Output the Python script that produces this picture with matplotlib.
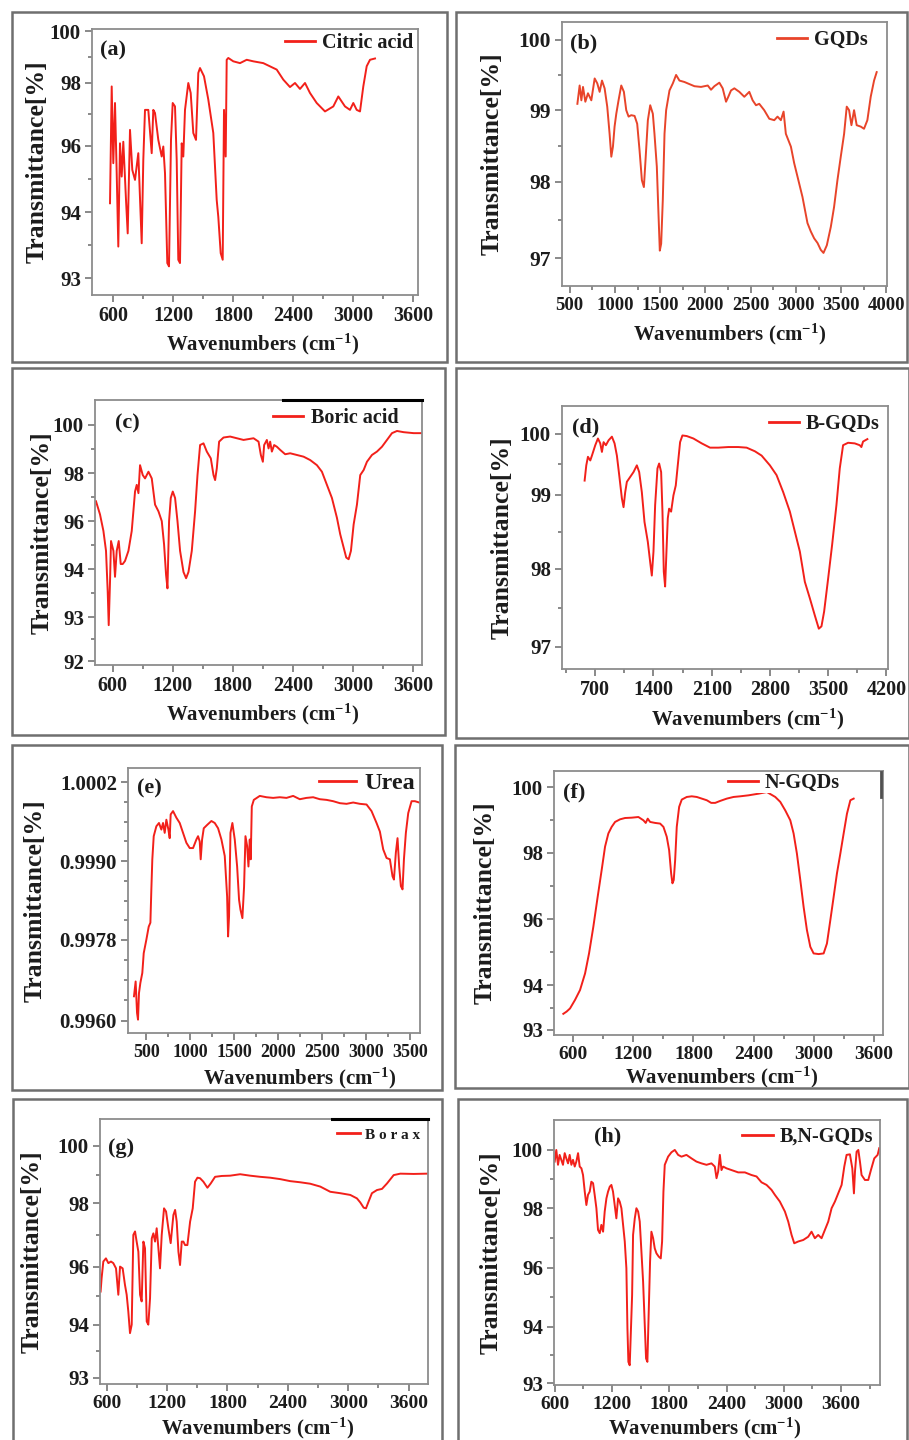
import numpy as np
import matplotlib
matplotlib.use("Agg")
import matplotlib.pyplot as plt
from matplotlib.patches import Rectangle
from matplotlib.ticker import FixedLocator, MultipleLocator

# ---- spectra (wavenumber cm-1, transmittance) ----
citric_wn = [570, 587, 603, 620, 637, 653, 670, 687, 703, 730, 747, 770, 793, 820, 853, 887, 903, 920,
             953, 987, 1003, 1020, 1053, 1087, 1103, 1120, 1143, 1160, 1180, 1197, 1220, 1237, 1253,
             1270, 1287, 1303, 1320, 1353, 1377, 1403, 1430, 1453, 1470, 1510, 1553, 1603, 1637, 1653,
             1677, 1697, 1710, 1727, 1737, 1753, 1803, 1870, 1937, 2003, 2103, 2237, 2303, 2370, 2420,
             2470, 2520, 2570, 2637, 2720, 2803, 2853, 2920, 2970, 3003, 3037, 3070, 3103, 3137, 3170, 3220]
citric_t = [94.27, 97.89, 95.47, 97.36, 95.17, 93.48, 96.07, 95.07, 96.12, 94.37, 93.68, 96.50, 95.27,
            94.97, 95.77, 93.53, 95.57, 97.14, 97.14, 95.77, 97.14, 97.04, 96.18, 95.67, 95.97, 95.17,
            93.23, 93.18, 96.18, 97.36, 97.25, 95.57, 93.28, 93.23, 96.07, 95.67, 97.14, 98.00, 97.68,
            96.40, 96.18, 98.39, 98.58, 98.26, 97.47, 96.40, 94.37, 93.93, 93.38, 93.28, 97.14, 95.67,
            98.90, 98.97, 98.84, 98.77, 98.90, 98.84, 98.77, 98.52, 98.13, 97.87, 98.00, 97.81, 98.00,
            97.68, 97.36, 97.09, 97.25, 97.57, 97.25, 97.14, 97.36, 97.14, 97.09, 97.89, 98.65, 98.90, 98.95]

gqd_wn = [585, 610, 629, 647, 673, 702, 739, 776, 805, 831, 857, 886, 915, 941, 960, 978, 996, 1015,
          1040, 1070, 1099, 1125, 1151, 1180, 1217, 1246, 1272, 1298, 1320, 1338, 1364, 1390, 1419, 1437,
          1463, 1481, 1496, 1511, 1529, 1548, 1566, 1603, 1640, 1676, 1713, 1768, 1823, 1879, 1952, 2026,
          2062, 2099, 2154, 2191, 2228, 2253, 2283, 2320, 2375, 2430, 2485, 2522, 2559, 2595, 2650, 2706,
          2761, 2797, 2834, 2864, 2889, 2945, 2981, 3018, 3073, 3128, 3165, 3202, 3239, 3275, 3305, 3342,
          3386, 3422, 3459, 3496, 3533, 3562, 3588, 3614, 3643, 3672, 3717, 3753, 3790, 3827, 3864, 3893]
gqd_t = [99.09, 99.35, 99.14, 99.33, 99.12, 99.24, 99.14, 99.45, 99.38, 99.26, 99.42, 99.31, 99.05,
         98.67, 98.35, 98.49, 98.77, 98.95, 99.14, 99.35, 99.26, 99.00, 98.91, 98.93, 98.92, 98.81,
         98.44, 98.02, 97.93, 98.30, 98.86, 99.07, 98.95, 98.67, 98.21, 97.59, 97.10, 97.19, 97.76,
         98.67, 99.00, 99.28, 99.38, 99.50, 99.42, 99.40, 99.37, 99.34, 99.33, 99.35, 99.29, 99.34,
         99.39, 99.31, 99.12, 99.19, 99.28, 99.31, 99.26, 99.19, 99.26, 99.14, 99.07, 99.09, 99.00,
         98.88, 98.86, 98.91, 98.86, 98.98, 98.67, 98.49, 98.26, 98.07, 97.80, 97.46, 97.35, 97.26,
         97.20, 97.11, 97.07, 97.17, 97.41, 97.67, 98.02, 98.35, 98.67, 99.05, 99.00, 98.79, 99.00,
         98.79, 98.77, 98.74, 98.86, 99.19, 99.42, 99.54]

boric_wn = [433, 473, 507, 533, 550, 560, 573, 583, 607, 623, 640, 660, 680, 700, 723, 757, 790, 823,
            840, 857, 873, 900, 923, 957, 990, 1023, 1057, 1090, 1113, 1133, 1147, 1163, 1180, 1200,
            1223, 1247, 1273, 1307, 1333, 1357, 1390, 1423, 1447, 1473, 1507, 1540, 1580, 1607, 1623,
            1640, 1663, 1707, 1773, 1840, 1907, 2007, 2057, 2080, 2100, 2113, 2140, 2157, 2173, 2190,
            2213, 2240, 2273, 2323, 2373, 2440, 2507, 2573, 2640, 2690, 2740, 2790, 2840, 2873, 2907,
            2933, 2957, 2980, 3007, 3040, 3073, 3107, 3140, 3190, 3240, 3290, 3340, 3390, 3440, 3507,
            3607, 3683]
boric_t = [96.83, 96.28, 95.59, 94.76, 93.53, 92.82, 93.74, 95.17, 94.76, 93.84, 94.76, 95.17, 94.21,
           94.21, 94.34, 94.76, 95.59, 97.24, 97.52, 97.17, 98.34, 97.93, 97.79, 98.07, 97.79, 96.69,
           96.41, 96.00, 95.03, 93.88, 93.60, 96.00, 96.97, 97.24, 96.97, 96.00, 94.76, 93.94, 93.81,
           93.94, 94.76, 96.41, 97.93, 99.17, 99.24, 98.90, 98.62, 97.93, 97.72, 98.21, 99.31, 99.48,
           99.52, 99.45, 99.38, 99.45, 99.31, 98.76, 98.48, 99.17, 99.38, 99.03, 99.31, 98.90, 99.17,
           99.10, 98.97, 98.79, 98.83, 98.76, 98.69, 98.55, 98.34, 98.07, 97.52, 96.97, 96.14, 95.45,
           94.90, 94.48, 94.41, 94.76, 95.86, 96.69, 97.93, 98.14, 98.48, 98.76, 98.90, 99.10, 99.38,
           99.66, 99.75, 99.70, 99.66, 99.66]

bgqd_wn = [572, 592, 612, 640, 660, 700, 732, 760, 780, 800, 828, 860, 900, 932, 960, 988, 1020, 1040,
           1060, 1080, 1120, 1160, 1200, 1228, 1260, 1292, 1332, 1360, 1380, 1400, 1420, 1448, 1468,
           1492, 1508, 1524, 1540, 1556, 1572, 1588, 1612, 1640, 1668, 1692, 1720, 1748, 1800, 1880,
           1980, 2080, 2180, 2300, 2420, 2520, 2620, 2700, 2800, 2880, 2960, 3040, 3100, 3160, 3220,
           3280, 3340, 3388, 3420, 3452, 3500, 3548, 3600, 3640, 3680, 3740, 3820, 3880, 3900, 3920, 3972]
bgqd_t = [99.23, 99.48, 99.62, 99.56, 99.64, 99.81, 99.92, 99.84, 99.70, 99.86, 99.81, 99.89, 99.95,
          99.84, 99.64, 99.32, 98.95, 98.83, 99.04, 99.21, 99.29, 99.37, 99.48, 99.37, 99.04, 98.63,
          98.36, 98.09, 97.91, 98.23, 98.86, 99.43, 99.51, 99.37, 98.77, 97.96, 97.77, 98.23, 98.68,
          98.81, 98.77, 98.99, 99.15, 99.48, 99.86, 99.97, 99.96, 99.92, 99.84, 99.77, 99.77, 99.78,
          99.78, 99.77, 99.71, 99.64, 99.48, 99.32, 99.04, 98.77, 98.50, 98.23, 97.83, 97.62, 97.40,
          97.23, 97.26, 97.45, 97.87, 98.32, 98.86, 99.43, 99.81, 99.85, 99.84, 99.81, 99.78, 99.87, 99.91]

urea_wn = [359, 378, 394, 405, 416, 432, 454, 470, 500, 527, 546, 557, 568, 584, 614, 644, 671, 690,
           709, 728, 751, 766, 777, 804, 842, 880, 918, 956, 994, 1032, 1070, 1089, 1108, 1119, 1135,
           1154, 1192, 1241, 1279, 1317, 1355, 1393, 1420, 1431, 1442, 1458, 1480, 1507, 1534, 1556,
           1572, 1594, 1613, 1629, 1648, 1663, 1678, 1689, 1701, 1724, 1792, 1868, 1944, 2020, 2096,
           2172, 2248, 2324, 2400, 2476, 2552, 2628, 2704, 2780, 2856, 2932, 3008, 3065, 3122, 3160,
           3198, 3236, 3274, 3304, 3320, 3342, 3361, 3380, 3399, 3418, 3434, 3456, 3483, 3521, 3559, 3608]
urea_t = [0.99654, 0.99687, 0.99617, 0.99602, 0.99661, 0.99684, 0.99706, 0.99750, 0.99780, 0.99800,
          0.99806, 0.99857, 0.99903, 0.99938, 0.99953, 0.99958, 0.99948, 0.99958, 0.99943, 0.99963,
          0.99948, 0.99935, 0.99971, 0.99976, 0.99966, 0.99958, 0.99943, 0.99928, 0.99920, 0.99920,
          0.99933, 0.99938, 0.99930, 0.99903, 0.99933, 0.99950, 0.99955, 0.99961, 0.99958, 0.99950,
          0.99933, 0.99908, 0.99846, 0.99785, 0.99816, 0.99943, 0.99958, 0.99933, 0.99892, 0.99841,
          0.99826, 0.99813, 0.99861, 0.99938, 0.99923, 0.99892, 0.99933, 0.99903, 0.99983, 0.99993,
          0.99999, 0.99997, 0.99996, 0.99997, 0.99996, 0.99999, 0.99994, 0.99996, 0.99997, 0.99994,
          0.99993, 0.99991, 0.99988, 0.99987, 0.99989, 0.99987, 0.99986, 0.99976, 0.99958, 0.99945,
          0.99918, 0.99905, 0.99903, 0.99877, 0.99872, 0.99913, 0.99935, 0.99892, 0.99862, 0.99857,
          0.99903, 0.99943, 0.99973, 0.99991, 0.99991, 0.99989]

ngqd_wn = [500, 533, 567, 617, 667, 717, 757, 800, 843, 883, 917, 950, 983, 1017, 1067, 1117, 1183,
           1250, 1300, 1323, 1343, 1367, 1417, 1467, 1500, 1533, 1557, 1577, 1590, 1603, 1617, 1633,
           1657, 1683, 1733, 1783, 1833, 1883, 1933, 1977, 2017, 2067, 2133, 2200, 2267, 2350, 2450,
           2533, 2617, 2667, 2717, 2767, 2800, 2833, 2867, 2900, 2933, 2967, 3000, 3050, 3100, 3133,
           3167, 3200, 3233, 3267, 3300, 3333, 3367, 3400]
ngqd_t = [93.36, 93.41, 93.48, 93.67, 93.89, 94.35, 94.96, 95.77, 96.67, 97.48, 98.19, 98.59, 98.79,
          98.94, 99.02, 99.06, 99.07, 99.09, 98.99, 98.91, 99.04, 98.94, 98.91, 98.89, 98.79, 98.49,
          98.08, 97.38, 97.08, 97.18, 97.78, 98.79, 99.40, 99.62, 99.70, 99.72, 99.70, 99.65, 99.60,
          99.52, 99.52, 99.58, 99.65, 99.70, 99.72, 99.75, 99.80, 99.85, 99.70, 99.55, 99.29, 98.99,
          98.59, 97.98, 97.18, 96.37, 95.67, 95.16, 94.96, 94.94, 94.96, 95.26, 95.97, 96.67, 97.38,
          97.98, 98.59, 99.19, 99.60, 99.65]

borax_wn = [540, 550, 567, 593, 617, 643, 666, 693, 716, 733, 759, 782, 799, 815, 832, 849, 865, 882,
            898, 915, 932, 948, 965, 981, 998, 1014, 1031, 1048, 1064, 1081, 1097, 1114, 1130, 1147,
            1170, 1190, 1213, 1236, 1263, 1280, 1296, 1313, 1329, 1346, 1362, 1379, 1402, 1429, 1455,
            1478, 1502, 1528, 1561, 1601, 1634, 1677, 1744, 1827, 1926, 2025, 2125, 2224, 2324, 2423,
            2523, 2622, 2722, 2821, 2921, 3020, 3086, 3119, 3153, 3176, 3202, 3235, 3285, 3335, 3385,
            3451, 3517, 3650, 3782]
borax_t = [95.14, 95.60, 96.16, 96.26, 96.11, 96.16, 96.11, 95.94, 95.03, 96.00, 95.94, 95.37, 95.03,
           94.46, 93.84, 94.00, 97.00, 97.11, 96.79, 96.47, 95.03, 94.80, 96.79, 96.58, 94.11, 94.00,
           94.91, 96.89, 97.05, 96.79, 97.21, 96.58, 95.94, 97.00, 97.84, 97.74, 97.21, 96.74, 97.63,
           97.79, 97.42, 96.47, 96.05, 96.79, 96.79, 96.68, 96.68, 97.42, 97.84, 98.75, 98.89, 98.87,
           98.75, 98.54, 98.69, 98.92, 98.95, 98.96, 99.01, 98.96, 98.92, 98.89, 98.84, 98.77, 98.73,
           98.68, 98.58, 98.40, 98.35, 98.29, 98.17, 98.03, 97.86, 97.84, 98.06, 98.35, 98.46, 98.50,
           98.69, 98.98, 99.03, 99.02, 99.03]

bngqd_wn = [600, 617, 635, 652, 670, 687, 705, 722, 740, 757, 775, 792, 810, 827, 845, 862, 880, 897,
            915, 932, 949, 967, 984, 1002, 1019, 1037, 1054, 1072, 1089, 1107, 1124, 1142, 1159, 1177,
            1194, 1211, 1229, 1246, 1264, 1281, 1299, 1316, 1334, 1351, 1362, 1372, 1386, 1397, 1411,
            1421, 1439, 1456, 1474, 1491, 1508, 1526, 1543, 1557, 1571, 1585, 1599, 1613, 1631, 1648,
            1666, 1690, 1711, 1725, 1739, 1753, 1788, 1823, 1858, 1893, 1928, 1980, 2033, 2085, 2137,
            2190, 2242, 2277, 2295, 2312, 2330, 2347, 2364, 2399, 2452, 2522, 2592, 2661, 2714, 2766,
            2819, 2871, 2906, 2958, 3011, 3046, 3081, 3109, 3151, 3203, 3255, 3290, 3325, 3360, 3395,
            3430, 3465, 3500, 3535, 3570, 3605, 3633, 3657, 3692, 3717, 3734, 3745, 3762, 3780, 3797,
            3814, 3849, 3884, 3912, 3947, 3982, 3999]
bngqd_t = [99.60, 100.0, 99.49, 99.83, 99.66, 99.49, 99.89, 99.71, 99.54, 99.83, 99.49, 99.66, 99.43,
           99.60, 99.89, 99.43, 99.37, 99.14, 98.57, 98.11, 98.46, 98.57, 98.91, 98.86, 98.46, 98.00,
           97.27, 97.16, 97.44, 97.21, 97.89, 98.34, 98.57, 98.74, 98.80, 98.57, 98.11, 97.66, 98.34,
           98.23, 98.00, 97.44, 96.88, 95.98, 93.97, 93.38, 93.32, 93.85, 95.07, 97.10, 97.66, 98.00,
           97.89, 97.55, 96.54, 95.53, 94.06, 93.44, 93.38, 94.51, 96.20, 97.21, 96.99, 96.65, 96.48,
           96.37, 96.31, 96.88, 98.57, 99.49, 99.77, 99.92, 100.0, 99.83, 99.77, 99.83, 99.71, 99.60,
           99.54, 99.49, 99.54, 99.43, 99.03, 99.26, 99.83, 99.31, 99.43, 99.37, 99.31, 99.23, 99.23,
           99.14, 99.09, 98.89, 98.80, 98.63, 98.46, 98.23, 97.89, 97.55, 97.10, 96.82, 96.88, 96.93,
           97.04, 97.21, 96.99, 97.10, 96.99, 97.27, 97.55, 98.00, 98.23, 98.51, 98.80, 99.43, 99.83,
           99.85, 99.37, 98.51, 99.26, 99.94, 100.0, 99.60, 99.14, 98.97, 98.97, 99.31, 99.71, 99.83, 100.06]

# y tick labels as printed on each panel
citric_yticks = [100, 98, 96, 94, 93]
gqd_yticks = [100, 99, 98, 97]
boric_yticks = [100, 98, 96, 94, 93, 92]
bgqd_yticks = [100, 99, 98, 97]
urea_yticks = [1.0002, 0.9990, 0.9978, 0.9960]
ngqd_yticks = [100, 98, 96, 94, 93]
borax_yticks = [100, 98, 96, 94, 93]
bngqd_yticks = [100, 98, 96, 94, 93]

plt.rcParams["font.family"] = ["Liberation Serif", "DejaVu Serif"]
plt.rcParams["font.weight"] = "bold"
plt.rcParams["axes.labelweight"] = "bold"
plt.rcParams["mathtext.fontset"] = "custom"
plt.rcParams["mathtext.rm"] = "Liberation Serif:bold"
plt.rcParams["mathtext.bf"] = "Liberation Serif:bold"
plt.rcParams["mathtext.default"] = "rm"

W, H = 909, 1440
TXT = "#1c1c1c"
RED = "#f2201a"
fig = plt.figure(figsize=(W / 100, H / 100), dpi=100)


def piecewise(vals, fracs):
    # the printed y axes are not evenly scaled, so map tick labels to their drawn heights
    v = np.array(vals, float)[::-1]
    f = np.array(fracs, float)[::-1]

    def fwd(x):
        x = np.asarray(x, float)
        y = np.interp(x, v, f)
        y = np.where(x < v[0], f[0] + (x - v[0]) * (f[1] - f[0]) / (v[1] - v[0]), y)
        y = np.where(x > v[-1], f[-1] + (x - v[-1]) * (f[-1] - f[-2]) / (v[-1] - v[-2]), y)
        return y

    def inv(y):
        y = np.asarray(y, float)
        x = np.interp(y, f, v)
        x = np.where(y < f[0], v[0] + (y - f[0]) * (v[1] - v[0]) / (f[1] - f[0]), x)
        x = np.where(y > f[-1], v[-1] + (y - f[-1]) * (v[-1] - v[-2]) / (f[-1] - f[-2]), x)
        return x

    return fwd, inv


def panel(box, frame, wn, t, yticks, yfracs, xlim, xstep, tag, name, tag_xy, leg_xy,
          ylab_x, xlab_xy, xfs=14.5, yfs=15, ylab_fmt="{:g}", leg_fs=14.5, nminor=1, color=RED):
    l, r, top, bot = box
    fig.patches.append(Rectangle((frame[0] / W, 1 - frame[3] / H), (frame[1] - frame[0]) / W,
                                 (frame[3] - frame[2]) / H, transform=fig.transFigure,
                                 fill=False, edgecolor="#6f6f6f", lw=1.8))
    ax = fig.add_axes([l / W, 1 - bot / H, (r - l) / W, (bot - top) / H])
    fwd, inv = piecewise(yticks, yfracs)
    ax.set_yscale("function", functions=(fwd, inv))
    ax.plot(wn, t, color=color, lw=1.4, label=name)
    ax.set_xlim(*xlim)
    ax.set_ylim(float(inv(0.0)), float(inv(1.0)))
    ax.yaxis.set_major_locator(FixedLocator(yticks))
    ax.set_yticklabels([ylab_fmt.format(v) for v in yticks])
    fr = np.sort(np.array(yfracs, float))
    mids = []
    for a, b in zip(fr[:-1], fr[1:]):
        mids += [a + (b - a) * k / (nminor + 1) for k in range(1, nminor + 1)]
    ax.yaxis.set_minor_locator(FixedLocator(list(inv(np.array(mids)))))
    ax.xaxis.set_major_locator(MultipleLocator(xstep))
    ax.xaxis.set_minor_locator(MultipleLocator(xstep / 2))
    for s in ax.spines.values():
        s.set_color("#8c8c8c")
        s.set_linewidth(1.3)
    ax.tick_params(which="both", direction="out", color="#6a6a6a", width=1.1,
                   labelcolor=TXT, pad=3)
    ax.tick_params(axis="x", labelsize=xfs)
    ax.tick_params(axis="y", labelsize=yfs)
    ax.tick_params(which="major", length=5)
    ax.tick_params(which="minor", length=3)
    ax.set_ylabel("Transmittance[%]", fontsize=18.5, color=TXT)
    ax.yaxis.label.set_va("center")
    ax.yaxis.set_label_coords((ylab_x - l) / (r - l), 0.5)
    ax.set_xlabel("Wavenumbers (cm$^{-1}$)", fontsize=15, color=TXT)
    ax.xaxis.set_label_coords((xlab_xy[0] - l) / (r - l), (bot - xlab_xy[1]) / (bot - top))
    ax.xaxis.label.set_va("center")
    ax.text(tag_xy[0], tag_xy[1], tag, transform=ax.transAxes, fontsize=16, color=TXT,
            ha="left", va="center")
    leg = ax.legend(loc="center right", bbox_to_anchor=leg_xy, frameon=False, fontsize=leg_fs,
                    handlelength=1.5, handletextpad=0.35, borderpad=0, borderaxespad=0)
    for tx in leg.get_texts():
        tx.set_color(TXT)
    for ln in leg.get_lines():
        ln.set_linewidth(2)
    return ax


panel((92, 418, 29, 295), (12, 447, 12, 362), citric_wn, citric_t, citric_yticks,
      [0.991, 0.797, 0.562, 0.311, 0.063], (390, 3650), 600, "(a)", "Citric acid",
      (0.025, 0.921), (0.985, 0.947), 37, (263, 344))
panel((562, 887, 22, 286), (456, 907, 12, 362), gqd_wn, gqd_t, gqd_yticks,
      [0.933, 0.666, 0.395, 0.105], (415, 4007), 500, "(b)", "GQDs",
      (0.025, 0.920), (0.942, 0.932), 492, (730, 334), xfs=13.5, yfs=15.5, color="#e8442a")
ax_c = panel((95, 422, 400, 665), (12, 445, 368, 735), boric_wn, boric_t, boric_yticks,
             [0.906, 0.723, 0.543, 0.362, 0.180, 0.015], (423, 3690), 600, "(c)", "Boric acid",
             (0.061, 0.913), (0.927, 0.932), 42, (263, 714))
ax_c.plot([0.575, 1.0], [1.0, 1.0], transform=ax_c.transAxes, color="black", lw=2.2,
          clip_on=False, zorder=5)
panel((562, 888, 406, 669), (456, 909, 368, 738), bgqd_wn, bgqd_t, bgqd_yticks,
      [0.895, 0.663, 0.382, 0.085], (300, 4220), 700, "(d)", "B-GQDs",
      (0.031, 0.920), (0.975, 0.932), 502, (748, 719), xfs=14.5)
panel((128, 420, 768, 1033), (12, 442, 745, 1090), urea_wn, urea_t, urea_yticks,
      [0.947, 0.648, 0.352, 0.047], (291, 3617), 500, "(e)", "Urea",
      (0.031, 0.921), (0.983, 0.943), 35, (300, 1078), xfs=13, yfs=15, ylab_fmt="{:.4f}",
      leg_fs=17.5, nminor=3)
ax_f = panel((554, 883, 771, 1035), (455, 909, 745, 1088), ngqd_wn, ngqd_t, ngqd_yticks,
             [0.939, 0.690, 0.439, 0.189, 0.019], (407, 3693), 600, "(f)", "N-GQDs",
             (0.027, 0.917), (0.869, 0.955), 485, (722, 1077), xfs=14)
# white legend box that hides the curve in panel (f)
ax_f.add_patch(Rectangle((0.498, 0.917), 0.499, 0.079, transform=ax_f.transAxes,
                         facecolor="white", edgecolor="none", zorder=3))
ax_f.plot([0.994, 0.994], [0.90, 0.996], transform=ax_f.transAxes, color="#505050", lw=2,
          zorder=4)
ax_f.get_legend().set_zorder(4)
ax_g = panel((100, 428, 1119, 1384), (13, 442, 1099, 1445), borax_wn, borax_t, borax_yticks,
             [0.899, 0.682, 0.443, 0.224, 0.023], (534, 3792), 600, "(g)", "B o r a x",
             (0.024, 0.891), (0.976, 0.940), 32, (258, 1428), xfs=14, leg_fs=11)
ax_g.plot([0.707, 1.0], [1.0, 1.0], transform=ax_g.transAxes, color="black", lw=2.2,
          clip_on=False, zorder=5)
panel((554, 880, 1120, 1385), (458, 907, 1099, 1445), bngqd_wn, bngqd_t, bngqd_yticks,
      [0.887, 0.667, 0.443, 0.220, 0.006], (593, 4007), 600, "(h)", "B,N-GQDs",
      (0.123, 0.936), (0.979, 0.936), 491, (705, 1428), xfs=14)

fig.savefig("out.png", dpi=100)
